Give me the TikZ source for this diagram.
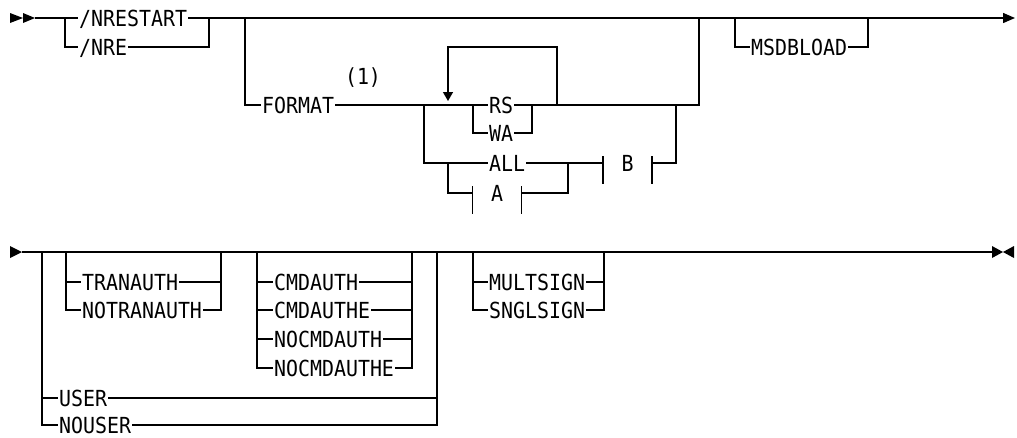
\documentclass[tikz,border=0pt]{standalone}
\usepackage{fontspec}
\newfontfamily\kwfont[FakeStretch=0.9]{DejaVu Sans Mono}
\usetikzlibrary{arrows.meta,calc}

\begin{document}
\begin{tikzpicture}[
  x=0.75pt, y=-0.75pt,
  rail/.style={line width=1pt},
  kw/.style={font=\kwfont\fontsize{16.6}{18}\selectfont, inner xsep=0.6pt, inner ysep=0pt,
    text height=12.1pt, text depth=0pt, anchor=west},
  frag/.style={kw, anchor=center, inner xsep=0pt, minimum width=36.5pt}
]
\useasboundingbox (0,0) rectangle (1017,437);

% first line
\fill (10,13) -- (23,18) -- (10,23) -- cycle;
\fill (23,13) -- (35,18) -- (23,23) -- cycle;
\coordinate (r1s) at (35,18);
\coordinate (r1e) at (1015,18);

\node[kw] (nrestart) at (78,18) {/NRESTART};
\node[kw] (nre) at (78,47) {/NRE};
\coordinate (b1) at (65,18);
\coordinate (m1) at (209,18);
\draw[rail] (r1s) -- (nrestart.west);
\draw[rail, -{Triangle[length=9pt,width=7.5pt]}] (nrestart.east) -- (r1e);
\draw[rail] (b1) |- (nre.west);
\draw[rail] (nre.east) -| (m1);

% FORMAT group
\node[kw] (format) at (261,105) {FORMAT};
\node[kw, anchor=center] (note1) at (363,76) {(1)};
\node[kw] (rs) at (488,105) {RS};
\node[kw] (wa) at (488,133) {WA};
\node[kw] (all) at (488,163) {ALL};
\node[frag] (fa) at (497,193) {A};
\node[frag] (fb) at (627.5,163) {B};
\coordinate (b2) at (245,18);
\coordinate (m2) at (699,18);
\coordinate (b3) at (473,105);
\coordinate (m3) at (532,105);
\coordinate (b4) at (424,105);
\coordinate (m4) at (676,105);
\coordinate (b5) at (448,163);
\coordinate (m5) at (568,163);
\coordinate (lp1) at (557,105);
\coordinate (lp2) at (448,101);

\draw[rail] (b2) |- (format.west);
\draw[rail] (format.east) -- (rs.west);
\draw[rail] (rs.east) -| (m2);
\draw[rail] (b3) |- (wa.west);
\draw[rail] (wa.east) -| (m3);
\draw[rail, -{Triangle[length=6.75pt,width=7.5pt]}] (lp1) -- ++(0,-58) -| (lp2);
\draw[rail] (b4) |- (all.west);
\draw[rail] (all.east) -- (fb.west);
\draw[rail] (fb.east) -| (m4);
\draw[rail] (b5) |- (fa.west);
\draw[rail] (fa.east) -| (m5);
\foreach \f in {fa,fb} {
  \draw[rail] ([yshift=5.25pt]\f.west) -- ([yshift=-15.75pt]\f.west);
  \draw[rail] ([yshift=5.25pt]\f.east) -- ([yshift=-15.75pt]\f.east);
}

% MSDBLOAD
\node[kw] (msdbload) at (750,47) {MSDBLOAD};
\coordinate (b6) at (735,18);
\coordinate (m6) at (868,18);
\draw[rail] (b6) |- (msdbload.west);
\draw[rail] (msdbload.east) -| (m6);

% second line
\fill (10,246) -- (22,252) -- (10,258) -- cycle;
\fill (992,246) -- (1003,252) -- (992,258) -- cycle;
\fill (1014,246) -- (1003,252) -- (1014,258) -- cycle;
\coordinate (r2s) at (22,252);
\coordinate (r2e) at (992,252);
\draw[rail] (r2s) -- (r2e);
\draw[line width=1.8pt] (610,252) -- (633,252);

\coordinate (c1) at (42,252);  \coordinate (d1) at (437,252);
\coordinate (c2) at (66,252);  \coordinate (d2) at (221,252);
\coordinate (c3) at (257,252); \coordinate (d3) at (412,252);
\coordinate (c4) at (473,252); \coordinate (d4) at (604,252);

\foreach \n/\t/\y in {user/USER/398, nouser/NOUSER/425} {
  \node[kw] (\n) at (58,\y) {\t};
  \draw[rail] (c1) |- (\n.west);
  \draw[rail] (\n.east) -| (d1);
}
\foreach \n/\t/\y in {tran/TRANAUTH/282, notran/NOTRANAUTH/310} {
  \node[kw] (\n) at (81,\y) {\t};
  \draw[rail] (c2) |- (\n.west);
  \draw[rail] (\n.east) -| (d2);
}
\foreach \n/\t/\y in {cmd/CMDAUTH/282, cmde/CMDAUTHE/310, nocmd/NOCMDAUTH/339, nocmde/NOCMDAUTHE/368} {
  \node[kw] (\n) at (273,\y) {\t};
  \draw[rail] (c3) |- (\n.west);
  \draw[rail] (\n.east) -| (d3);
}
\foreach \n/\t/\y in {mult/MULTSIGN/282, sngl/SNGLSIGN/310} {
  \node[kw] (\n) at (488,\y) {\t};
  \draw[rail] (c4) |- (\n.west);
  \draw[rail] (\n.east) -| (d4);
}

\end{tikzpicture}
\end{document}
